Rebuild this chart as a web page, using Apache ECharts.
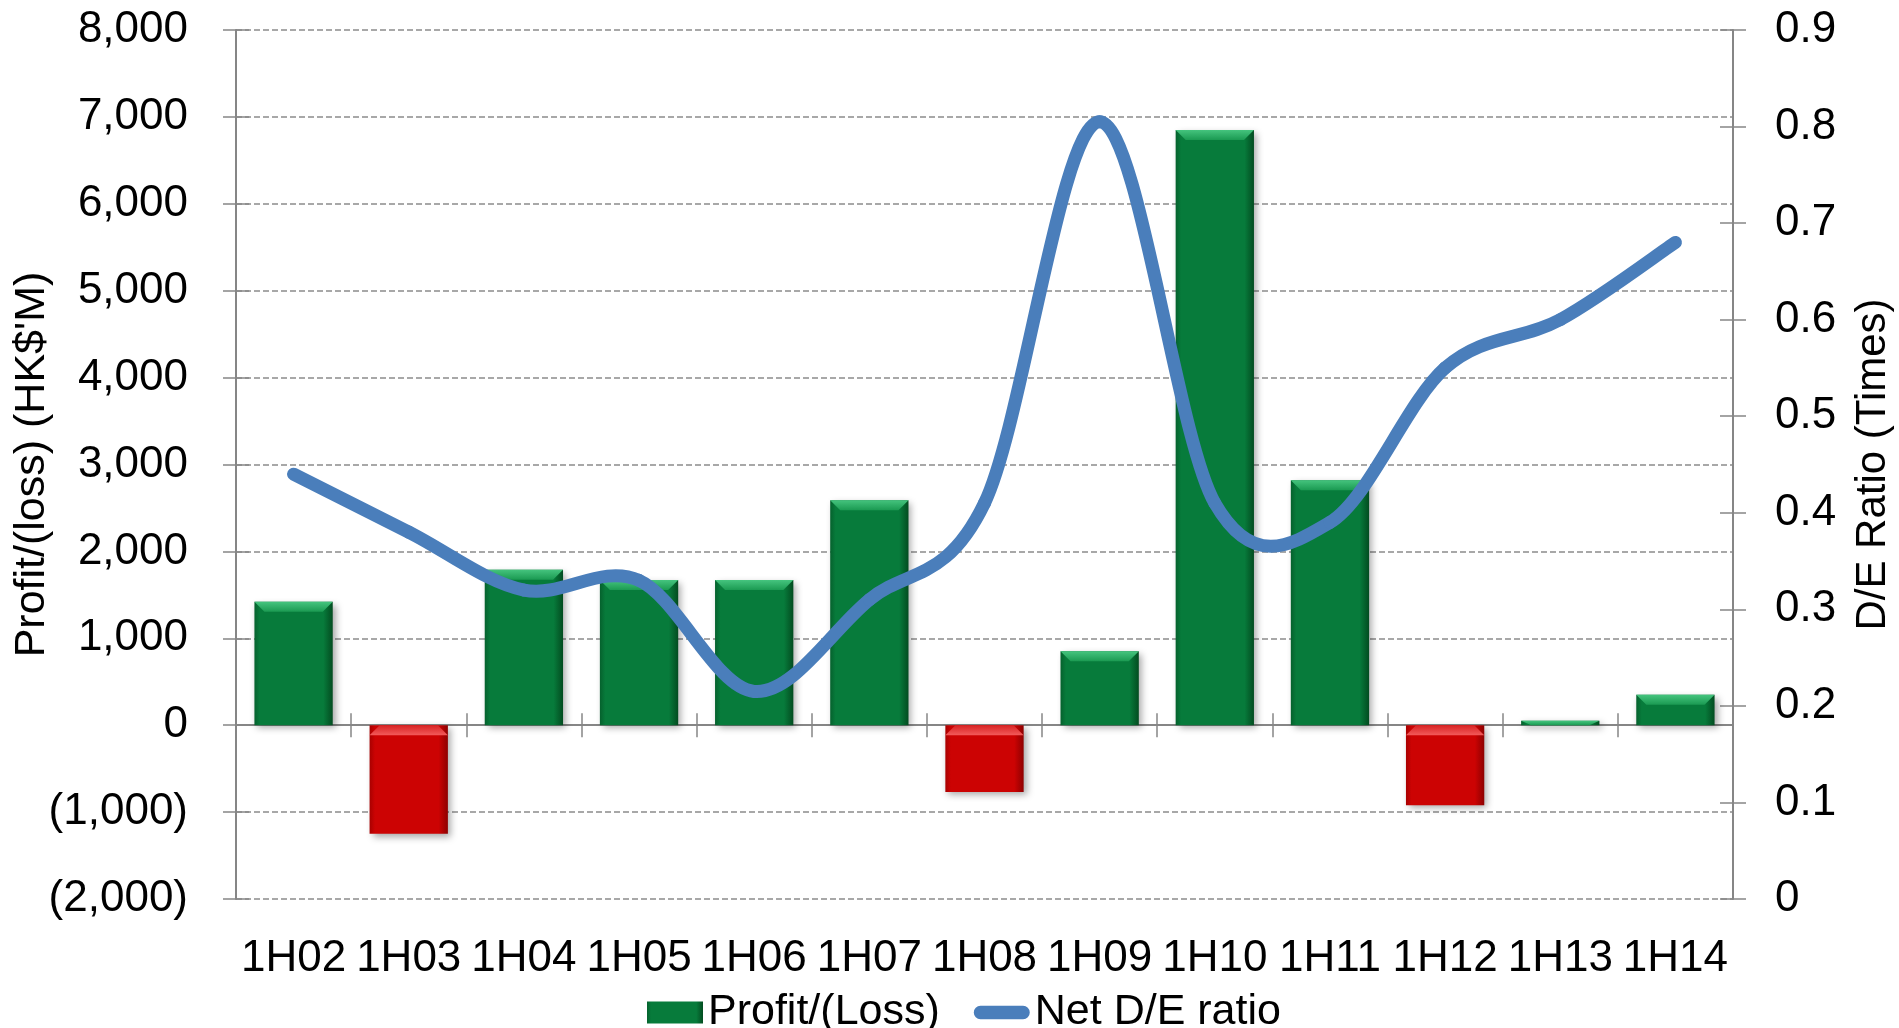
<!DOCTYPE html>
<html>
<head>
<meta charset="utf-8">
<script src="https://cdn.jsdelivr.net/npm/echarts@6/dist/echarts.min.js"></script>
<style>
  html, body { margin: 0; padding: 0; background: #ffffff; }
  #chart { width: 1899px; height: 1028px; }
</style>
</head>
<body>
<div id="chart"></div>
<script>
// Half-year results and gearing
const categories = ['1H02', '1H03', '1H04', '1H05', '1H06', '1H07', '1H08', '1H09', '1H10', '1H11', '1H12', '1H13', '1H14'];
const profitLoss = [1420, -1250, 1790, 1670, 1670, 2590, -770, 850, 6850, 2820, -920, 50, 350];
const netDeRatio = [0.44, 0.38, 0.32, 0.33, 0.215, 0.31, 0.41, 0.805, 0.41, 0.39, 0.55, 0.60, 0.68];

const profitAxisRange = [-2000, 8000];
const profitAxisStep = 1000;
const ratioAxisRange = [0, 0.9];
const ratioAxisStep = 0.1;

const FONT = 'Liberation Sans, Arial, sans-serif';
const AXIS_GREY = '#868686';
const LINE_BLUE = '#4a7ebb';

function hGrad(stops) {
  return new echarts.graphic.LinearGradient(0, 0, 1, 0, stops.map(s => ({ offset: s[0], color: s[1] })));
}
function vGrad(stops) {
  return new echarts.graphic.LinearGradient(0, 0, 0, 1, stops.map(s => ({ offset: s[0], color: s[1] })));
}

const greenBody = hGrad([[0, '#05612d'], [0.07, '#077b3b'], [0.88, '#077b3b'], [1, '#034c20']]);
const redBody = hGrad([[0, '#a80000'], [0.07, '#cc0303'], [0.88, '#cc0303'], [1, '#8e0000']]);
const greenBevel = vGrad([[0, '#45c47e'], [1, '#1b9a52']]);
const redBevel = vGrad([[0, '#f25a5a'], [1, '#d82222']]);

const fmtProfit = v => {
  const s = Math.abs(v).toLocaleString('en-US');
  return v < 0 ? '(' + s + ')' : s;
};
const fmtRatio = v => (v === 0 ? '0' : v.toFixed(1));

const barData = profitLoss.map(v => ({
  value: v,
  itemStyle: { color: v >= 0 ? greenBody : redBody }
}));

// light bevel strip along the upper edge of each bar
const bevelPath = 'path://M0,0 L78,0 L68,10 L10,10 Z';
const bevelData = profitLoss.map(v => ({
  value: v,
  symbolPosition: v >= 0 ? 'end' : 'start',
  symbolSize: Math.abs(v) < 150 ? ['100%', '100%'] : ['100%', 10],
  itemStyle: { color: v >= 0 ? greenBevel : redBevel }
}));

const ratioPoints = netDeRatio.map((v, i) => [i, v]);

// smoothed ratio curve: cubic segments with control points at 1/6 of the neighbour chord
function renderRatioSegment(params, api) {
  const i = params.dataIndexInside;
  const n = params.dataInsideLength;
  if (i >= n - 1) return { type: 'group', children: [] };
  const pt = k => {
    const j = Math.max(0, Math.min(n - 1, k));
    return api.coord([api.value(0, j), api.value(1, j)]);
  };
  const p0 = pt(i - 1), p1 = pt(i), p2 = pt(i + 1), p3 = pt(i + 2);
  const t = 1 / 6;
  return {
    type: 'bezierCurve',
    shape: {
      x1: p1[0], y1: p1[1],
      x2: p2[0], y2: p2[1],
      cpx1: p1[0] + (p2[0] - p0[0]) * t, cpy1: p1[1] + (p2[1] - p0[1]) * t,
      cpx2: p2[0] - (p3[0] - p1[0]) * t, cpy2: p2[1] - (p3[1] - p1[1]) * t
    },
    style: { fill: null, stroke: LINE_BLUE, lineWidth: 13, lineCap: 'round', lineJoin: 'round' }
  };
}

const chart = echarts.init(document.getElementById('chart'), null, { renderer: 'canvas' });

chart.setOption({
  backgroundColor: '#ffffff',
  animation: false,
  textStyle: { fontFamily: FONT },
  grid: {
    left: 236, right: 166, top: 30, bottom: 129,
    containLabel: false,
    outerBoundsMode: 'none'
  },
  legend: {
    data: [
      { name: 'Profit/(Loss)', icon: 'rect' },
      { name: 'Net D/E ratio', icon: 'path://M7.5,0 L55.5,0 A7.5,7.5 0 0 1 55.5,15 L7.5,15 A7.5,7.5 0 0 1 7.5,0 Z' }
    ],
    left: 642,
    top: 986,
    itemWidth: 56,
    itemHeight: 22,
    itemGap: 34,
    symbolKeepAspect: true,
    textStyle: { fontFamily: FONT, fontSize: 43, color: '#000000' }
  },
  xAxis: [
    {
      // category labels along the bottom edge
      type: 'category',
      data: categories,
      position: 'bottom',
      axisLine: { show: false, onZero: false },
      axisTick: { show: false },
      axisLabel: { interval: 0, margin: 38, fontFamily: FONT, fontSize: 44, color: '#000000' },
      splitLine: { show: false }
    },
    {
      // baseline at zero with outward ticks
      type: 'category',
      data: categories,
      position: 'bottom',
      axisLine: { show: true, onZero: true, onZeroAxisIndex: 0, lineStyle: { color: AXIS_GREY, width: 2 } },
      axisTick: { show: true, length: 12, lineStyle: { color: AXIS_GREY, width: 1.5 } },
      axisLabel: { show: false },
      splitLine: { show: false }
    },
    {
      // inward half of the crossing ticks
      type: 'category',
      data: categories,
      position: 'bottom',
      axisLine: { show: false, onZero: true, onZeroAxisIndex: 0 },
      axisTick: { show: true, inside: true, length: 12, lineStyle: { color: AXIS_GREY, width: 1.5 } },
      axisLabel: { show: false },
      splitLine: { show: false }
    }
  ],
  yAxis: [
    {
      type: 'value',
      position: 'left',
      min: profitAxisRange[0], max: profitAxisRange[1], interval: profitAxisStep,
      name: "Profit/(loss) (HK$'M)",
      nameLocation: 'middle',
      nameRotate: 90,
      nameGap: 182,
      nameMoveOverlap: false,
      nameTextStyle: { fontFamily: FONT, fontSize: 43, color: '#000000' },
      axisLine: { show: true, lineStyle: { color: AXIS_GREY, width: 2 } },
      axisTick: { show: true, length: 13, lineStyle: { color: AXIS_GREY, width: 1.5 } },
      axisLabel: { margin: 48, fontFamily: FONT, fontSize: 44, color: '#000000', formatter: fmtProfit },
      splitLine: { show: true, lineStyle: { color: '#8c8c8c', width: 1.5, type: [6, 3] } }
    },
    {
      type: 'value',
      position: 'right',
      min: ratioAxisRange[0], max: ratioAxisRange[1], interval: ratioAxisStep,
      name: 'D/E Ratio (Times)',
      nameLocation: 'middle',
      nameRotate: 90,
      nameGap: 119,
      nameMoveOverlap: false,
      nameTextStyle: { fontFamily: FONT, fontSize: 42, color: '#000000' },
      axisLine: { show: true, lineStyle: { color: AXIS_GREY, width: 2 } },
      axisTick: { show: true, length: 13, lineStyle: { color: AXIS_GREY, width: 1.5 } },
      axisLabel: { margin: 42, fontFamily: FONT, fontSize: 44, color: '#000000', formatter: fmtRatio },
      splitLine: { show: false }
    },
    {
      type: 'value',
      position: 'left',
      min: profitAxisRange[0], max: profitAxisRange[1], interval: profitAxisStep,
      axisLine: { show: false },
      axisTick: { show: true, inside: true, length: 13, lineStyle: { color: AXIS_GREY, width: 1.5 } },
      axisLabel: { show: false },
      splitLine: { show: false }
    },
    {
      type: 'value',
      position: 'right',
      min: ratioAxisRange[0], max: ratioAxisRange[1], interval: ratioAxisStep,
      axisLine: { show: false },
      axisTick: { show: true, inside: true, length: 13, lineStyle: { color: AXIS_GREY, width: 1.5 } },
      axisLabel: { show: false },
      splitLine: { show: false }
    }
  ],
  series: [
    {
      name: 'Profit/(Loss)',
      type: 'bar',
      xAxisIndex: 0,
      yAxisIndex: 0,
      barWidth: '68%',
      data: barData,
      itemStyle: {
        color: greenBody,
        shadowColor: 'rgba(0,0,0,0.35)',
        shadowBlur: 7,
        shadowOffsetX: 3,
        shadowOffsetY: 3
      },
      z: 2
    },
    {
      name: 'bevel',
      type: 'pictorialBar',
      xAxisIndex: 0,
      yAxisIndex: 0,
      barWidth: '68%',
      symbol: bevelPath,
      symbolRepeat: false,
      data: bevelData,
      silent: true,
      z: 3
    },
    {
      name: 'Net D/E ratio',
      type: 'custom',
      xAxisIndex: 0,
      yAxisIndex: 1,
      data: ratioPoints,
      encode: { x: 0, y: 1 },
      renderItem: renderRatioSegment,
      clip: false,
      itemStyle: { color: LINE_BLUE },
      silent: true,
      z: 5
    }
  ]
});
</script>
</body>
</html>
